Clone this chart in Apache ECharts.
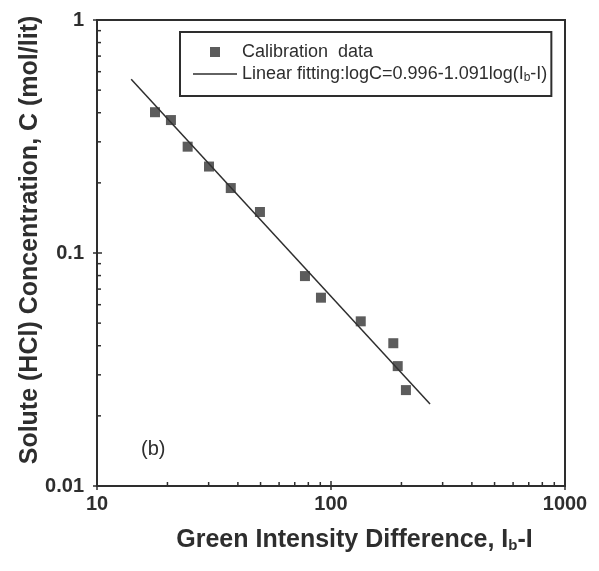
<!DOCTYPE html>
<html>
<head>
<meta charset="utf-8">
<script src="https://cdn.jsdelivr.net/npm/echarts@6/dist/echarts.min.js"></script>
<style>
  html, body { margin: 0; padding: 0; background: #ffffff; }
  #chart { width: 599px; height: 571px; }
</style>
</head>
<body>
<div id="chart"></div>
<script>
// Calibration measurements: green intensity difference (Ib - I) vs HCl concentration (mol/lit)
const intensityDiff = [17.7, 20.7, 24.4, 30.1, 37.3, 49.7, 77.4, 90.6, 134, 184.6, 192.8, 209];
const concentration = [0.402, 0.372, 0.286, 0.235, 0.190, 0.150, 0.0796, 0.0643, 0.0509, 0.041, 0.0327, 0.0258];

// Fitted line logC = 0.996 - 1.091 log(Ib - I), drawn over the fitted range
const fitIntercept = 0.996;
const fitSlope = -1.091;
const fitRange = [14, 265];

// Axis ranges and tick positions
const xRange = [10, 1000];
const yRange = [0.01, 1];
const xMajorTicks = [100];
const yMajorTicks = [0.1];
const xMinorTicks = [20, 30, 40, 50, 60, 70, 80, 90, 200, 300, 400, 500, 600, 700, 800, 900];
const yMinorTicks = [0.02, 0.03, 0.04, 0.05, 0.06, 0.07, 0.08, 0.09, 0.2, 0.3, 0.4, 0.5, 0.6, 0.7, 0.8, 0.9];

const seriesNames = ['Calibration data', 'Linear fitting'];

const fitLine = fitRange.map(x => [x, Math.pow(10, fitIntercept + fitSlope * Math.log10(x))]);
const scatterData = intensityDiff.map((x, i) => [x, concentration[i]]);

// Inward tick marks: [x, y, side (0 = bottom axis, 1 = left axis), length]
const tickData = [];
xMajorTicks.forEach(v => tickData.push([v, yRange[0], 0, 5]));
xMinorTicks.forEach(v => tickData.push([v, yRange[0], 0, 4]));
yMajorTicks.forEach(v => tickData.push([xRange[0], v, 1, 5]));
yMinorTicks.forEach(v => tickData.push([xRange[0], v, 1, 4]));

const ink = '#2e2e2e';
const font = 'Liberation Sans, Arial, sans-serif';
const chart = echarts.init(document.getElementById('chart'), null, { renderer: 'canvas' });

chart.setOption({
  backgroundColor: '#ffffff',
  animation: false,
  textStyle: { fontFamily: font, color: ink },
  grid: {
    left: 97, right: 34, top: 20, bottom: 85,
    show: true, borderColor: ink, borderWidth: 2, backgroundColor: 'transparent'
  },
  legend: {
    left: 180, top: 32,
    orient: 'vertical',
    padding: [10, 4, 12, 13],
    itemWidth: 44, itemHeight: 10, itemGap: 2,
    borderColor: ink, borderWidth: 2,
    selectedMode: false,
    data: [
      { name: seriesNames[0], icon: 'path://M0,0L10,0L10,10L0,10Z' },
      { name: seriesNames[1], icon: 'path://M0,0L44,0L44,1.4L0,1.4Z' }
    ],
    formatter: name => name === seriesNames[1]
      ? 'Linear fitting:logC=0.996-1.091log(I{sub|b}-I)'
      : 'Calibration  data',
    textStyle: {
      fontSize: 18, color: ink, lineHeight: 20,
      rich: {
        sub: { fontSize: 12, lineHeight: 20, padding: [8, 0, 0, 0], color: ink }
      }
    }
  },
  xAxis: {
    type: 'log', logBase: 10, min: xRange[0], max: xRange[1],
    splitLine: { show: false },
    axisLine: { lineStyle: { color: ink, width: 2 } },
    axisTick: { inside: false, length: 4, lineStyle: { color: ink, width: 1.5 } },
    axisLabel: { fontSize: 20, fontWeight: 'bold', color: ink, margin: 8, formatter: v => String(v) },
    name: 'Green Intensity Difference, I{s|b}-I',
    nameLocation: 'middle', nameGap: 42, nameMoveOverlap: false,
    nameTextStyle: {
      fontSize: 25, fontWeight: 'bold', color: ink, padding: [0, 0, 0, 47],
      rich: { s: { fontSize: 15, fontWeight: 'bold', color: ink, padding: [10, 0, 0, 0] } }
    }
  },
  yAxis: {
    type: 'log', logBase: 10, min: yRange[0], max: yRange[1],
    splitLine: { show: false },
    axisLine: { lineStyle: { color: ink, width: 2 } },
    axisTick: { inside: false, length: 4, lineStyle: { color: ink, width: 1.5 } },
    axisLabel: { fontSize: 20, fontWeight: 'bold', color: ink, margin: 13, formatter: v => String(v) },
    name: 'Solute (HCl) Concentration, C (mol/lit)',
    nameLocation: 'middle', nameGap: 54, nameMoveOverlap: false,
    nameTextStyle: { fontSize: 25, fontWeight: 'bold', color: ink, padding: [0, 0, 0, 26] }
  },
  graphic: [
    { type: 'text', left: 141, top: 439, style: { text: '(b)', fontSize: 20, fill: ink, fontFamily: font } }
  ],
  series: [
    {
      name: seriesNames[0], type: 'scatter',
      symbol: 'rect', symbolSize: 10,
      itemStyle: { color: '#333333' },
      data: scatterData, z: 3
    },
    {
      name: seriesNames[1], type: 'line',
      symbol: 'none', showSymbol: false,
      lineStyle: { color: ink, width: 1.5 },
      itemStyle: { color: ink },
      data: fitLine, z: 2
    },
    {
      type: 'custom', silent: true, clip: false, z: 4,
      dimensions: ['x', 'y', 'side', 'len'],
      encode: { x: 0, y: 1 },
      data: tickData,
      renderItem: (params, api) => {
        const p = api.coord([api.value(0), api.value(1)]);
        const side = api.value(2);
        const len = api.value(3);
        const shape = side === 0
          ? { x1: p[0], y1: p[1], x2: p[0], y2: p[1] - len }
          : { x1: p[0], y1: p[1], x2: p[0] + len, y2: p[1] };
        return { type: 'line', shape: shape, style: { stroke: ink, lineWidth: 1.5, fill: null } };
      }
    }
  ]
});
</script>
</body>
</html>
